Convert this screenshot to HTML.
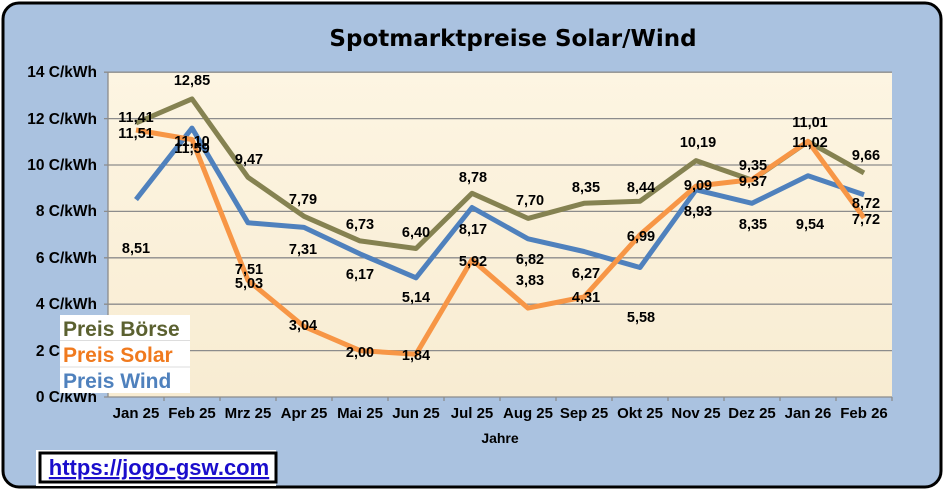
<!DOCTYPE html>
<html><head><meta charset="utf-8"><style>
body{margin:0;width:945px;height:490px;overflow:hidden;background:#fff}
</style></head><body>
<svg width="945" height="490" xmlns="http://www.w3.org/2000/svg" font-family="Liberation Sans, Arial, sans-serif">
<rect x="3" y="3" width="938" height="484" rx="16" fill="#aac2e0" stroke="#000" stroke-width="3"/>
<defs><linearGradient id="g" x1="0" y1="0" x2="0" y2="1"><stop offset="0" stop-color="#fdf5e2"/><stop offset="1" stop-color="#f8ecd2"/></linearGradient></defs>
<rect x="108" y="72" width="784" height="325" fill="url(#g)"/>
<g stroke="#8c8c8c" stroke-width="1.3">
<line x1="104" y1="72.2" x2="892" y2="72.2"/><line x1="104" y1="118.6" x2="892" y2="118.6"/>
<line x1="104" y1="165" x2="892" y2="165"/><line x1="104" y1="211.4" x2="892" y2="211.4"/>
<line x1="104" y1="257.8" x2="892" y2="257.8"/><line x1="104" y1="304.2" x2="892" y2="304.2"/>
<line x1="104" y1="350.6" x2="892" y2="350.6"/><line x1="104" y1="397" x2="892" y2="397"/>
<line x1="108" y1="72" x2="108" y2="397"/>
</g>
<g stroke="#8c8c8c" stroke-width="1.3">
<line x1="164" y1="397" x2="164" y2="401"/><line x1="220" y1="397" x2="220" y2="401"/><line x1="276" y1="397" x2="276" y2="401"/><line x1="332" y1="397" x2="332" y2="401"/><line x1="388" y1="397" x2="388" y2="401"/><line x1="444" y1="397" x2="444" y2="401"/><line x1="500" y1="397" x2="500" y2="401"/><line x1="556" y1="397" x2="556" y2="401"/><line x1="612" y1="397" x2="612" y2="401"/><line x1="668" y1="397" x2="668" y2="401"/><line x1="724" y1="397" x2="724" y2="401"/><line x1="780" y1="397" x2="780" y2="401"/><line x1="836" y1="397" x2="836" y2="401"/><line x1="892" y1="397" x2="892" y2="401"/>
</g>
<g fill="none" stroke-width="5" stroke-linejoin="round">
<polyline stroke="#4f81bd" points="136,199.6 192,128.1 248,222.8 304,227.4 360,253.9 416,277.8 472,207.5 528,238.8 584,251.5 640,267.5 696,189.8 752,203.3 808,175.7 864,194.7"/>
<polyline stroke="#858251" points="136,123 192,98.9 248,177.3 304,216.3 360,240.9 416,248.5 472,193.3 528,218.4 584,203.3 640,201.2 696,160.6 752,180.1 808,141.6 864,172.9"/>
<polyline stroke="#f79646" points="136,130 192,139.5 248,280.3 304,326.5 360,350.6 416,354.3 472,259.7 528,308.1 584,297 640,234.8 696,186.1 752,179.6 808,141.3 864,217.9"/>
</g>
<text x="513" y="46" text-anchor="middle" font-family="DejaVu Sans, Liberation Sans, sans-serif" font-weight="bold" font-size="23">Spotmarktpreise  Solar/Wind</text>
<g font-weight="bold" font-size="15.5" text-anchor="end">
<text x="97" y="77">14 C/kWh</text><text x="97" y="124">12 C/kWh</text><text x="97" y="170">10 C/kWh</text><text x="97" y="216">8 C/kWh</text><text x="97" y="263">6 C/kWh</text><text x="97" y="309">4 C/kWh</text><text x="97" y="356">2 C/kWh</text><text x="97" y="402">0 C/kWh</text>
</g>
<g font-weight="bold" font-size="15" text-anchor="middle">
<text x="136" y="418">Jan 25</text><text x="192" y="418">Feb 25</text><text x="248" y="418">Mrz 25</text><text x="304" y="418">Apr 25</text><text x="360" y="418">Mai 25</text><text x="416" y="418">Jun 25</text><text x="472" y="418">Jul 25</text><text x="528" y="418">Aug 25</text><text x="584" y="418">Sep 25</text><text x="640" y="418">Okt 25</text><text x="696" y="418">Nov 25</text><text x="752" y="418">Dez 25</text><text x="808" y="418">Jan 26</text><text x="864" y="418">Feb 26</text>
<text x="500" y="443" font-size="14">Jahre</text>
</g>
<g font-weight="bold" font-size="14.5" text-anchor="middle">
<text x="136" y="122">11,41</text><text x="192" y="85">12,85</text><text x="249" y="164">9,47</text><text x="303" y="204">7,79</text><text x="360" y="229">6,73</text><text x="416" y="237">6,40</text><text x="473" y="182">8,78</text><text x="530" y="205">7,70</text><text x="586" y="192">8,35</text><text x="641" y="192">8,44</text><text x="698" y="147">10,19</text><text x="753" y="170">9,35</text><text x="810" y="127">11,01</text><text x="866" y="160">9,66</text>
<text x="136" y="138">11,51</text><text x="192" y="146">11,10</text><text x="249" y="288">5,03</text><text x="303" y="330">3,04</text><text x="360" y="357">2,00</text><text x="416" y="360">1,84</text><text x="473" y="266">5,92</text><text x="530" y="285">3,83</text><text x="586" y="302">4,31</text><text x="641" y="241">6,99</text><text x="698" y="190">9,09</text><text x="753" y="186">9,37</text><text x="810" y="147">11,02</text><text x="866" y="224">7,72</text>
<text x="136" y="253">8,51</text><text x="192" y="153">11,59</text><text x="249" y="274">7,51</text><text x="303" y="254">7,31</text><text x="360" y="279">6,17</text><text x="416" y="302">5,14</text><text x="473" y="234">8,17</text><text x="530" y="264">6,82</text><text x="586" y="278">6,27</text><text x="641" y="322">5,58</text><text x="698" y="216">8,93</text><text x="753" y="229">8,35</text><text x="810" y="229">9,54</text><text x="866" y="208">8,72</text>
</g>
<rect x="60" y="315" width="130" height="78" fill="#fff"/>
<line x1="60" y1="340.5" x2="190" y2="340.5" stroke="#ddd"/><line x1="60" y1="367" x2="190" y2="367" stroke="#ddd"/>
<g font-weight="bold" font-size="21">
<text x="63" y="336" fill="#5b6130">Preis Börse</text>
<text x="63" y="362" fill="#f07a1e">Preis Solar</text>
<text x="63" y="388" fill="#4f81bd">Preis Wind</text>
</g>
<rect x="36" y="450" width="240" height="36" fill="#fff"/>
<rect x="40" y="453" width="236" height="29" fill="#fff" stroke="#000" stroke-width="3"/>
<text x="159" y="475" text-anchor="middle" font-weight="bold" font-size="22" fill="#1a0dcc" text-decoration="underline">https://jogo-gsw.com</text>
</svg>
</body></html>
